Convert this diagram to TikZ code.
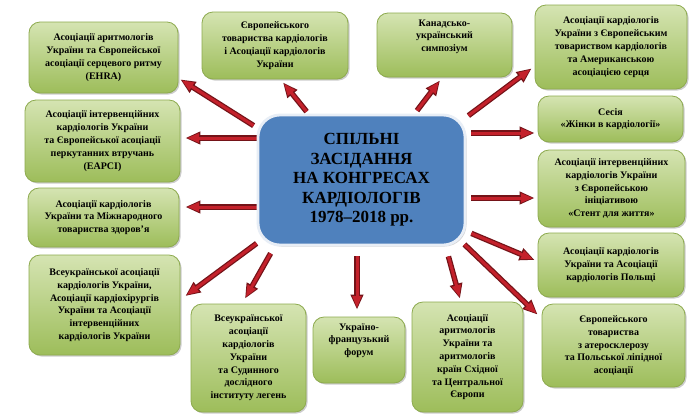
\documentclass[tikz,border=0pt]{standalone}
\usepackage{fontspec}
\setmainfont{Liberation Serif}
\usetikzlibrary{arrows.meta,shadows,backgrounds}
\definecolor{gtop}{HTML}{D5E4B2}
\definecolor{gbot}{HTML}{9DBD5A}
\definecolor{gline}{HTML}{8DAA4E}
\definecolor{cblue}{HTML}{4F81BD}
\definecolor{cedge}{HTML}{E8EEF6}
\definecolor{ared}{HTML}{C4212B}
\definecolor{adark}{HTML}{741318}
\begin{document}
\begin{tikzpicture}[x=1pt,y=-1pt,
  gbox/.style={draw=gline, line width=0.8pt, rounded corners=11pt,
    top color=gtop, bottom color=gbot,
    drop shadow={shadow xshift=1.5pt,shadow yshift=-1.5pt,opacity=0.4},
    align=center, font=\fontsize{10}{12.8}\selectfont\rmfamily\bfseries, inner sep=2pt},
  cbox/.style={draw=cedge, line width=2.8pt, fill=cblue, rounded corners=22pt,
    drop shadow={shadow xshift=1.5pt,shadow yshift=-1.5pt,opacity=0.35},
    align=center, font=\fontsize{17}{19.5}\selectfont\rmfamily\bfseries,
    minimum width=207pt, minimum height=130pt},
  arr/.style={draw=adark, line width=5.5pt, -{Triangle[length=15pt,width=12pt]},
    postaction={draw=ared, line width=3pt, shorten >=1.5pt,
      -{Triangle[length=12pt,width=8.5pt]}}}
]
\useasboundingbox (0,0) rectangle (700,413);

\node[cbox] (c) at (361.5,180) {СПІЛЬНІ\\ЗАСІДАННЯ\\НА КОНГРЕСАХ\\КАРДІОЛОГІВ\\1978–2018 рр.};

\node[gbox, minimum width=149pt, minimum height=71pt] (b1) at (103.5,57.5)
  {Асоціації аритмологів\\України та Європейської\\асоціації серцевого ритму\\(EHRA)};
\node[gbox, minimum width=155pt, minimum height=82pt] (b2) at (102.5,141)
  {Асоціації інтервенційних\\кардіологів України\\та Європейської асоціації\\перкутанних втручань\\(EAPCI)};
\node[gbox, minimum width=151pt, minimum height=59pt] (b3) at (103.5,217.5)
  {Асоціації кардіологів\\України та Міжнародного\\товариства здоров’я};
\node[gbox, minimum width=151pt, minimum height=100pt] (b4) at (104.5,305)
  {Всеукраїнської асоціації\\кардіологів України,\\Асоціації кардіохірургів\\України та Асоціації\\інтервенційних\\кардіологів України};
\node[gbox, minimum width=115pt, minimum height=108pt] (b5) at (248.5,358)
  {Всеукраїнської\\асоціації\\кардіологів\\України\\та Судинного\\дослідного\\інституту легень};
\node[gbox, minimum width=92pt, minimum height=66pt] (b6) at (359,350)
  {Україно-\\французький\\форум\\[8pt]};
\node[gbox, minimum width=111pt, minimum height=110pt] (b7) at (467.5,357)
  {Асоціації\\аритмологів\\України та\\аритмологів\\країн Східної\\та Центральної\\Європи};
\node[gbox, minimum width=143pt, minimum height=83pt] (b8) at (613.5,345.5)
  {Європейського\\товариства\\з атеросклерозу\\та Польської ліпідної\\асоціації};
\node[gbox, minimum width=146pt, minimum height=64pt] (b9) at (611,265)
  {Асоціації кардіологів\\України та Асоціації\\кардіологів Польщі};
\node[gbox, minimum width=147pt, minimum height=77pt] (b10) at (611.5,188.5)
  {Асоціації інтервенційних\\кардіологів України\\з Європейською\\ініціативою\\«Стент для життя»};
\node[gbox, minimum width=145pt, minimum height=46pt] (b11) at (610.5,119)
  {Сесія\\«Жінки в кардіології»};
\node[gbox, minimum width=152pt, minimum height=84pt] (b12) at (611,47)
  {Асоціації кардіологів\\України з Європейським\\товариством кардіологів\\та Американською\\асоціацією серця};
\node[gbox, minimum width=135pt, minimum height=64pt] (b13) at (444.5,45)
  {Канадсько-\\український\\симпозіум\\[6pt]};
\node[gbox, minimum width=146pt, minimum height=67pt] (b14) at (275,45.5)
  {Європейського\\товариства кардіологів\\і Асоціації кардіологів\\України};

\begin{pgfonlayer}{background}
\fill[white] (0,0) rectangle (700,413);
\draw[arr] ([shift={(-3,12)}]c.north west) -- ([shift={(2,-14)}]b1.south east);
\draw[arr] ([shift={(50,-2)}]c.north west) -- ([shift={(8,3)}]b14.south);
\draw[arr] ([shift={(0,-42)}]c.west) -- ([shift={(5,-3)}]b2.east);
\draw[arr] ([shift={(0,27)}]c.west) -- ([shift={(6,-10.5)}]b3.east);
\draw[arr] ([shift={(0,-3)}]c.south west) -- ([shift={(5,-9)}]b4.east);
\draw[arr] ([shift={(14,7)}]c.south west) -- ([shift={(-3.5,-5)}]b5.north);
\draw[arr] ([shift={(-4.5,10)}]c.south) -- ([shift={(-2,-7)}]b6.north);
\draw[arr] ([shift={(-18,10)}]c.south east) -- ([shift={(-7.5,-3)}]b7.north);
\draw[arr] ([shift={(-2,-2)}]c.south east) -- ([shift={(-4,11)}]b8.north west);
\draw[arr] ([shift={(5,-13)}]c.south east) -- ([shift={(-3,-5)}]b9.west);
\draw[arr] ([shift={(5,18)}]c.east) -- ([shift={(-3,9.5)}]b10.west);
\draw[arr] ([shift={(5,-47)}]c.east) -- ([shift={(-3,14)}]b11.west);
\draw[arr] ([shift={(2,2)}]c.north east) -- ([shift={(-3,-21)}]b12.south west);
\draw[arr] ([shift={(55.5,-3)}]c.north) -- ([shift={(-4.5,3)}]b13.south);
\end{pgfonlayer}
\end{tikzpicture}
\end{document}
